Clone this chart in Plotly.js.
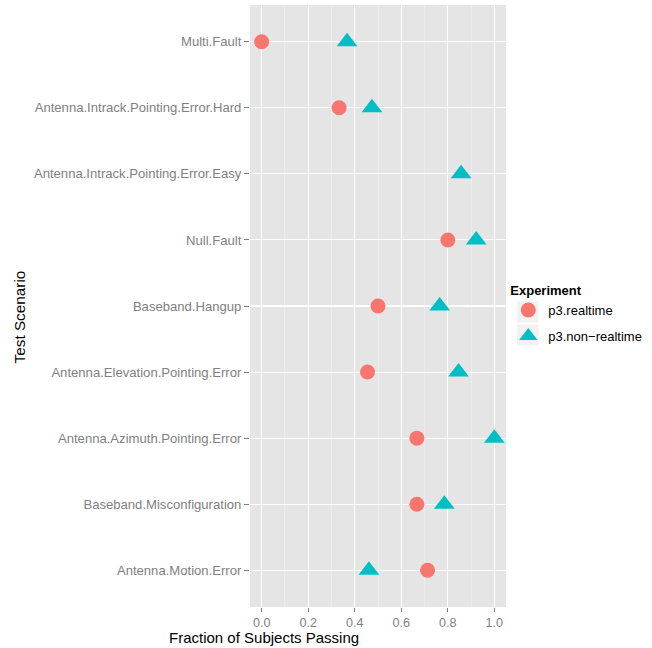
<!DOCTYPE html>
<html>
<head>
<meta charset="utf-8">
<script src="https://cdn.plot.ly/plotly-3.0.1.min.js"></script>
<style>html,body{margin:0;padding:0;background:#fff;}#chart{width:652px;height:648px;}</style>
</head>
<body>
<div id="chart"></div>
<script>
// Categories, listed bottom to top
const scenarios = [
  "Antenna.Motion.Error",
  "Baseband.Misconfiguration",
  "Antenna.Azimuth.Pointing.Error",
  "Antenna.Elevation.Pointing.Error",
  "Baseband.Hangup",
  "Null.Fault",
  "Antenna.Intrack.Pointing.Error.Easy",
  "Antenna.Intrack.Pointing.Error.Hard",
  "Multi.Fault"
];
const realtime    = [0.713, 0.667, 0.667, 0.455, 0.5, 0.8, null, 0.333, 0.0];
const nonRealtime = [0.461, 0.785, 1.0, 0.846, 0.765, 0.922, 0.857, 0.474, 0.367];
const seriesNames = ["p3.realtime", "p3.non\u2212realtime"];
const xTicks = [0, 0.2, 0.4, 0.6, 0.8, 1.0];
const xTickLabels = ["0.0", "0.2", "0.4", "0.6", "0.8", "1.0"];

const FONT = "Liberation Sans, Arial, Helvetica, sans-serif";
const W = 652, H = 648;
const L = 250, R = 146.3, T = 5, B = 41.3;
const pw = W - L - R, ph = H - T - B;
const px = x => (x - L) / pw;
const py = y => (H - B - y) / ph;

const traces = [
  {
    type: "scatter", mode: "markers", name: seriesNames[0],
    x: realtime, y: scenarios,
    marker: {symbol: "circle", size: 15, color: "#F8766D", line: {width: 0}},
    cliponaxis: false, legendgroup: "a"
  },
  {
    type: "scatter", mode: "markers", name: seriesNames[1],
    x: nonRealtime, y: scenarios,
    marker: {symbol: "triangle-up", size: 18, color: "#00BFC4", line: {width: 0}},
    cliponaxis: false, legendgroup: "b"
  }
];

const layout = {
  width: W, height: H,
  margin: {l: L, r: R, t: T, b: B, pad: 0, autoexpand: false},
  paper_bgcolor: "#FFFFFF",
  plot_bgcolor: "#E5E5E5",
  font: {family: FONT, size: 13, color: "#000000"},
  showlegend: true,
  legend: {
    x: px(508), xanchor: "left",
    y: py(278), yanchor: "top",
    bgcolor: "rgba(0,0,0,0)",
    font: {family: FONT, size: 13, color: "#000000"},
    title: {text: "<b>Experiment</b>", font: {family: FONT, size: 13, color: "#000000"}},
    tracegroupgap: 6,
    itemsizing: "trace"
  },
  xaxis: {
    range: [-0.05, 1.05],
    tickmode: "array", tickvals: xTicks, ticktext: xTickLabels,
    ticks: "outside", ticklen: 4, tickwidth: 1, tickcolor: "#7F7F7F",
    tickfont: {family: FONT, size: 12.6, color: "#7F7F7F"},
    showgrid: true, gridcolor: "#FFFFFF", gridwidth: 1.1,
    minor: {tickmode: "array", tickvals: [0.1, 0.3, 0.5, 0.7, 0.9], showgrid: true, gridcolor: "#F2F2F2", gridwidth: 0.6, ticks: ""},
    zeroline: false, showline: false, fixedrange: true, automargin: false
  },
  yaxis: {
    type: "category",
    categoryorder: "array", categoryarray: scenarios,
    range: [-0.556, 8.556],
    ticks: "outside", ticklen: 5, tickwidth: 1, tickcolor: "#7F7F7F",
    tickfont: {family: FONT, size: 13.1, color: "#7F7F7F"},
    showgrid: true, gridcolor: "#FFFFFF", gridwidth: 1.1,
    zeroline: false, showline: false, fixedrange: true, automargin: false
  },
  shapes: [
    {type: "rect", xref: "paper", yref: "paper", x0: px(516.7), x1: px(538), y0: py(322.7), y1: py(301), fillcolor: "#F2F2F2", line: {width: 0}, layer: "below"},
    {type: "rect", xref: "paper", yref: "paper", x0: px(516.7), x1: px(538), y0: py(345.5), y1: py(324.3), fillcolor: "#F2F2F2", line: {width: 0}, layer: "below"}
  ],
  annotations: [
    {text: "Fraction of Subjects Passing", xref: "paper", yref: "paper", x: px(264), y: py(637.5), xanchor: "center", yanchor: "middle", showarrow: false, borderpad: 0, font: {family: FONT, size: 15, color: "#000000"}},
    {text: "Test Scenario", xref: "paper", yref: "paper", x: px(20), y: py(316.5), xanchor: "center", yanchor: "middle", textangle: -90, showarrow: false, borderpad: 0, font: {family: FONT, size: 15.3, color: "#000000"}}
  ]
};

Plotly.newPlot("chart", traces, layout, {displayModeBar: false, staticPlot: true});
</script>
</body>
</html>
